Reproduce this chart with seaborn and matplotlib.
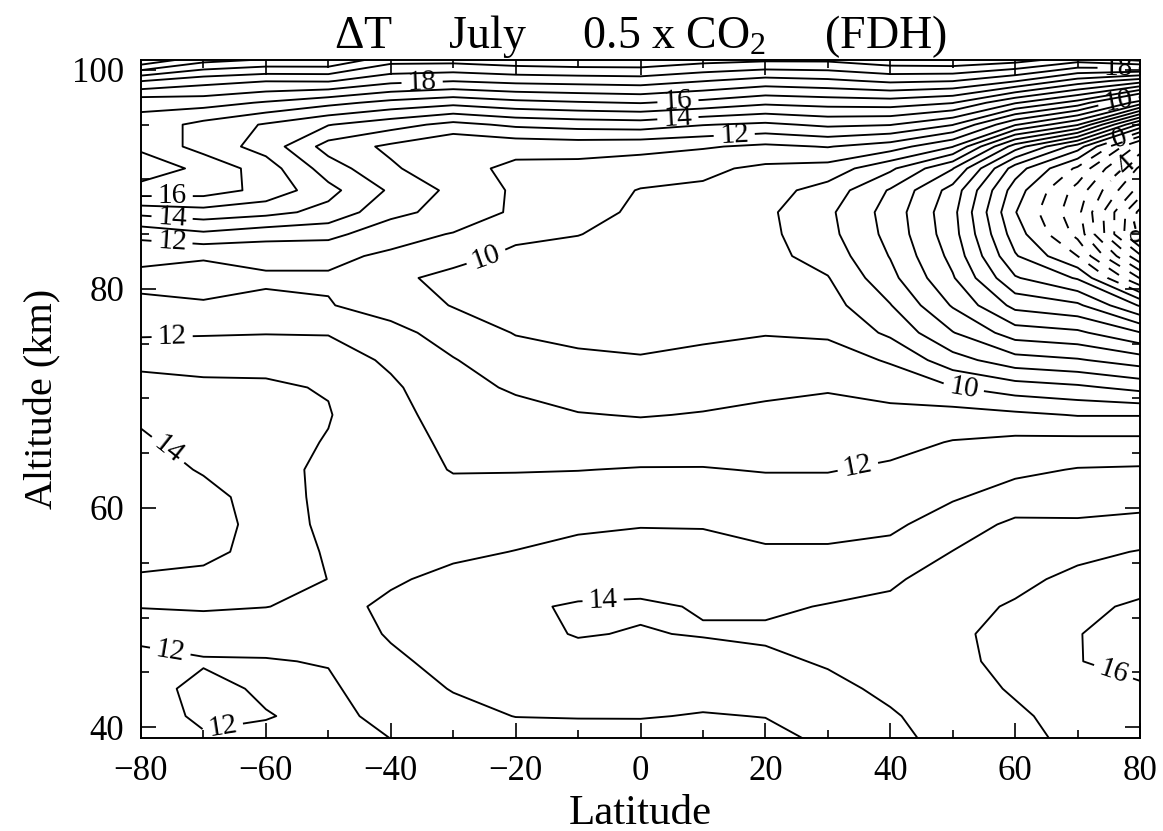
import numpy as np
import matplotlib
matplotlib.use("Agg")
import matplotlib.pyplot as plt
import seaborn as sns

# Latitude (deg) and altitude (km) of the model grid
latitude = [-80, -70, -60, -50, -40, -30, -20, -10, 0, 10, 20, 30, 40, 50, 60, 70, 80]
altitude = [38.5, 41, 43.5, 46, 48.5, 51, 53.5, 56, 58.5, 61, 63.5, 66, 68.5, 71,
            73.5, 76, 78.5, 81, 83, 85, 87, 89, 91, 93, 95, 97, 99, 101]

# Temperature change (K), one altitude profile per latitude, bottom to top
dT_80S = [11.4, 11.5, 11.6, 11.75, 12.2, 13.05, 13.85, 14.45, 14.7, 14.7, 14.5, 14.2, 13.8, 13.35,
          12.75, 11.85, 11.15, 10.8, 11.2, 12.3, 14.3, 16.6, 17.6, 16.8, 16.6, 17.3, 20.05, 24.05]
dT_70S = [11.8, 12.2, 12.3, 11.9, 12.5, 13.1, 13.7, 14.3, 14.5, 14.35, 13.9, 13.5, 13.3, 13.15,
          12.75, 11.9, 11.05, 10.8, 11.05, 12.8, 14.6, 16.5, 16.75, 15.6, 15.7, 17.4, 19.4, 22.5]
dT_60S = [11.7, 12.05, 11.85, 11.95, 12.35, 13.02, 13.4, 13.6, 13.6, 13.55, 13.4, 13.3, 13.25, 13.1,
          12.8, 11.95, 11.15, 10.9, 11.2, 12.4, 14.3, 15.7, 15.5, 14.6, 14.9, 16.9, 19.05, 22.05]
dT_50S = [11.6, 11.75, 11.85, 12.05, 12.4, 12.75, 12.99, 12.9, 12.75, 12.7, 12.75, 12.95, 13.05, 12.95,
          12.45, 11.95, 11.05, 10.9, 11.2, 12.3, 13.7, 14.3, 13.5, 12.6, 14.05, 16.3, 19.1, 22.05]
dT_40S = [11.95, 12.25, 12.55, 12.8, 13.1, 13.15, 12.9, 12.7, 12.6, 12.5, 12.45, 12.4, 12.3, 12.15,
          11.85, 11.3, 10.6, 10.2, 10.85, 11.35, 12.3, 12.85, 12.15, 11.8, 13.4, 15.7, 18.3, 20.5]
dT_30S = [12.3, 12.7, 13.05, 13.35, 13.5, 13.45, 13.2, 12.85, 12.55, 12.3, 11.95, 11.8, 11.6, 11.4,
          11.05, 10.6, 9.95, 9.75, 10.3, 10.95, 11.6, 11.75, 11.3, 11.05, 12.7, 15.3, 18.05, 20.5]
dT_20S = [12.45, 13.02, 13.3, 13.55, 13.75, 13.9, 13.4, 13.02, 12.7, 12.4, 11.95, 11.75, 11.4, 10.85,
          10.45, 9.95, 9.7, 9.65, 9.8, 10.2, 10.85, 10.85, 10.8, 11.3, 13.2, 15.7, 18.3, 20.8]
dT_10S = [12.5, 13.05, 13.4, 13.7, 14.05, 14.07, 13.7, 13.25, 12.85, 12.45, 11.98, 11.5, 11.05, 10.55,
          10.15, 9.8, 9.65, 9.6, 9.75, 10.02, 10.3, 10.5, 10.7, 11.4, 13.4, 15.9, 18.4, 20.95]
dT_EQ = [12.55, 13.05, 13.45, 13.75, 13.95, 14.1, 13.75, 13.35, 12.95, 12.5, 12.05, 11.5, 10.95, 10.5,
         10.05, 9.8, 9.7, 9.65, 9.7, 9.75, 9.85, 9.95, 10.5, 11.3, 13.5, 16.05, 18.5, 20.95]
dT_10N = [12.6, 12.95, 13.3, 13.65, 14.05, 13.95, 13.6, 13.25, 12.95, 12.5, 12.05, 11.55, 11.05, 10.65,
          10.2, 9.85, 9.7, 9.6, 9.6, 9.65, 9.7, 9.85, 10.2, 11.1, 13.05, 15.7, 18.05, 20.5]
dT_20N = [12.7, 13.02, 13.35, 13.8, 14.15, 13.85, 13.5, 13.1, 12.75, 12.4, 11.95, 11.65, 11.2, 10.8,
          10.4, 9.95, 9.6, 9.4, 9.3, 9.25, 9.2, 9.4, 9.8, 10.8, 12.8, 15.2, 17.6, 20.3]
dT_30N = [13.1, 13.4, 13.75, 14.1, 14.3, 14.05, 13.6, 13.1, 12.75, 12.4, 11.95, 11.7, 11.4, 10.9,
          10.45, 9.85, 9.4, 9.05, 8.6, 8.3, 8.2, 8.6, 9.6, 11.05, 13.2, 15.4, 17.8, 20.3]
dT_40N = [13.7, 13.9, 14.2, 14.4, 14.45, 14.2, 13.85, 13.3, 12.8, 12.4, 12.15, 11.7, 11.3, 10.6,
          9.9, 8.8, 8.05, 7.3, 6.95, 6.7, 6.6, 6.9, 8.2, 10.5, 13.05, 15.5, 18.2, 20.8]
dT_50N = [14.3, 14.45, 14.6, 14.75, 14.8, 14.7, 14.45, 14.02, 13.5, 12.9, 12.55, 12.05, 11.4, 10.05,
          8.4, 7.05, 5.9, 5.1, 4.7, 4.4, 4.3, 4.6, 6.05, 9.05, 12.05, 15.05, 18.05, 20.95]
dT_60N = [14.7, 14.85, 15.1, 15.3, 15.35, 15.1, 14.75, 14.6, 14.2, 13.4, 12.8, 12.25, 11.2, 9.5,
          7.4, 5.5, 3.7, 2.1, 1.1, 0.5, 0.05, 0.5, 1.5, 4.5, 9.1, 13.1, 17.1, 20.6]
dT_70N = [15.2, 15.35, 15.6, 15.95, 15.95, 15.7, 15.25, 14.75, 14.15, 13.5, 13.05, 12.3, 10.95, 9.2,
          7.1, 5.2, 3.2, 0.9, -1.0, -2.3, -2.7, -2.4, -1.2, 1.5, 7.1, 11.6, 15.6, 19.6]
dT_80N = [15.5, 15.6, 15.8, 16.5, 16.6, 16.2, 15.5, 15.05, 14.3, 13.6, 13.1, 12.3, 10.95, 8.7,
          6.5, 4.05, 0.9, -3.05, -5.8, -8.6, -8.3, -6.4, -5.2, -3.4, 1.8, 8.5, 14.5, 20.5]

profiles = [dT_80S, dT_70S, dT_60S, dT_50S, dT_40S, dT_30S, dT_20S, dT_10S, dT_EQ,
            dT_10N, dT_20N, dT_30N, dT_40N, dT_50N, dT_60N, dT_70N, dT_80N]
field = np.column_stack(profiles)

# 1 K contour interval; even contours carry labels
odd_levels = np.arange(-7, 25, 2)
even_levels = np.arange(-8, 25, 2)

# where the even-valued contours carry their labels (lat, km)
label_spots = [(-35, 99.3), (6, 97.1), (6, 95.5), (15, 94.2),
               (-75, 88.5), (-75, 86.7), (-75, 84.6), (-25, 83.4),
               (-75, 75.4), (52, 72.0), (35, 63.2), (-75, 65.8),
               (-6, 51.8), (-75, 48.0), (-67, 40.3), (75.5, 44.6),
               (76.5, 100.1), (76.5, 97.3), (76.5, 94.0), (77, 91.3), (79, 85.2)]

sns.set_theme(style="ticks")
plt.rcParams["font.family"] = ["Liberation Serif", "DejaVu Serif"]
plt.rcParams["mathtext.fontset"] = "custom"
plt.rcParams["mathtext.rm"] = "Liberation Serif"
plt.rcParams["mathtext.it"] = "Liberation Serif:italic"
plt.rcParams["lines.dashed_pattern"] = [6.5, 6.0]
plt.rcParams["contour.negative_linestyle"] = "dashed"
for key in ["text.color", "axes.labelcolor", "xtick.color", "ytick.color", "axes.edgecolor"]:
    plt.rcParams[key] = "black"

fig = plt.figure(figsize=(11.63, 8.31), dpi=100)
ax = fig.add_axes([141 / 1163, 1 - 738 / 831, (1140 - 141) / 1163, (738 - 60) / 831])

ax.contour(latitude, altitude, field, levels=odd_levels, colors="black", linewidths=1.35)
cs_even = ax.contour(latitude, altitude, field, levels=even_levels, colors="black", linewidths=1.35)
ax.clabel(cs_even, manual=label_spots, inline=True, inline_spacing=6, fmt="%d", fontsize=21)

ax.set_xlim(-80, 80)
ax.set_ylim(39.0, 100.9)
ax.set_xticks(np.arange(-80, 81, 20))
ax.set_xticks(np.arange(-80, 81, 10), minor=True)
ax.set_yticks([40, 60, 80, 100])
ax.set_yticks(np.arange(40, 101, 5), minor=True)
ax.tick_params(which="both", direction="in", top=True, right=True, width=1.2)
ax.tick_params(which="major", length=11, labelsize=25, pad=12)
ax.tick_params(which="minor", length=6)
for s in ax.spines.values():
    s.set_linewidth(1.4)

ax.set_xlabel("Latitude", fontsize=31, labelpad=5)
ax.set_ylabel("Altitude (km)", fontsize=29, labelpad=8)
ax.set_title(r"$\Delta$T     July     0.5 x CO$_2$     (FDH)", fontsize=33, pad=3)

fig.savefig("out.png", dpi=100, facecolor="white")
